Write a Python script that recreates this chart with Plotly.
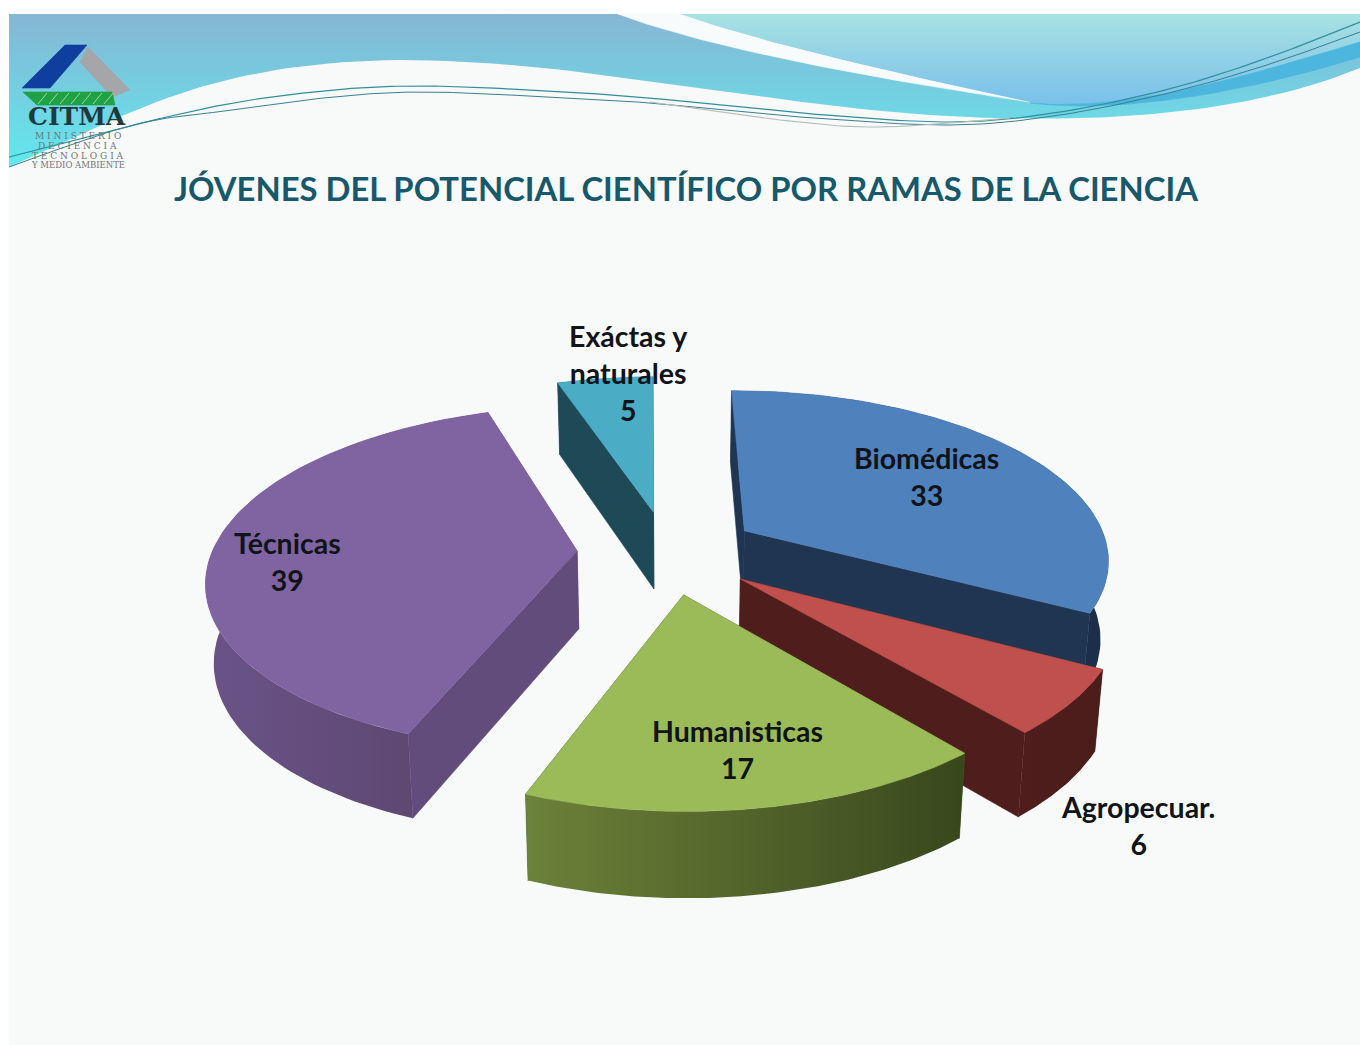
import math
import numpy as np
import plotly.graph_objects as go

# ---- data ----
categories = ["Biomédicas", "Agropecuar.", "Humanisticas", "Técnicas", "Exáctas y naturales"]
values = [33, 6, 17, 39, 5]
top_colors = ["#4f81bd", "#c0504d", "#9bbb59", "#8064a2", "#4bacc6"]
wall_colors = ["#1f3552", "#4f1e1c", "#4a5a26", "#624c7c", "#1d4a56"]
outer_left = ["#1f3552", "#4f1e1c", "#6b8239", "#6a5388", "#1d4a56"]
outer_right = ["#1b2f4a", "#4a1c1a", "#39471d", "#594469", "#1d4a56"]
draw_order = [4, 0, 3, 1, 2]
title = "JÓVENES DEL POTENCIAL CIENTÍFICO POR RAMAS DE LA CIENCIA"

# ---- projection of the exploded pie ----
CX, CY = 668, 552
R, PULL, TILT, DIST, HEIGHT = 365, 91, 0.46, 2350, 78
START = -0.5


def project(gx, gy, bottom=False):
    s = 1 / (1 + gy / DIST)
    x = CX + gx * s
    y = CY - TILT * gy * s
    if bottom:
        x = CX + (x - CX) * 0.982
        y = y + HEIGHT * np.sqrt(s)
    return x, y


fig = go.Figure()


def poly(xs, ys, color=None, grad=None, gtype="horizontal"):
    xs, ys = list(xs), list(ys)
    kw = dict(x=xs + xs[:1], y=ys + ys[:1], mode="lines", fill="toself",
              hoverinfo="skip", showlegend=False)
    if grad:
        kw["fillgradient"] = dict(type=gtype, colorscale=[[0, grad[0]], [1, grad[1]]])
        kw["line"] = dict(width=0)
    else:
        kw["fillcolor"] = color
        kw["line"] = dict(width=0.6, color=color)
    fig.add_trace(go.Scatter(**kw))


def bez(p0, p1, p2, p3, n=40):
    t = np.linspace(0, 1, n)
    x = (1-t)**3*p0[0] + 3*(1-t)**2*t*p1[0] + 3*(1-t)*t**2*p2[0] + t**3*p3[0]
    y = (1-t)**3*p0[1] + 3*(1-t)**2*t*p1[1] + 3*(1-t)*t**2*p2[1] + t**3*p3[1]
    return list(x), list(y)


def path(*segs):
    xs, ys = [], []
    for s in segs:
        x, y = bez(*s)
        xs += x
        ys += y
    return xs, ys


def spline(pts):
    x, y = [], []
    for i in range(len(pts) - 1):
        a, b = pts[i], pts[i + 1]
        p = pts[i - 1] if i else a
        q = pts[i + 2] if i + 2 < len(pts) else b
        c1 = (a[0] + (b[0] - p[0]) / 6, a[1] + (b[1] - p[1]) / 6)
        c2 = (b[0] - (q[0] - a[0]) / 6, b[1] - (q[1] - a[1]) / 6)
        xx, yy = bez(a, c1, c2, b, 20)
        x += xx
        y += yy
    return x, y


# ---- slide background ----
poly([9, 1360, 1360, 9], [14, 14, 1045, 1045], color="#f8f9f9")

# ---- header ----
lx, ly = path(((9, 167), (120, 120), (200, 62), (400, 60)),
              ((400, 60), (600, 60), (800, 115), (1000, 118)),
              ((1000, 118), (1150, 122), (1270, 105), (1360, 68)))
poly([9, 618, 1017, 1360] + lx[::-1], [14, 14, 100, 40] + ly[::-1],
     grad=("#62e8ee", "#86b6d4"), gtype="vertical")
wx, wy = path(((618, 14), (700, 45), (850, 75), (1030, 102)))
wx2, wy2 = path(((1030, 102), (880, 70), (760, 42), (680, 14)))
poly(wx + wx2, wy + wy2, color="#f8fbfb")
ux, uy = path(((680, 14), (760, 42), (880, 70), (1030, 102)),
              ((1030, 102), (1130, 112), (1250, 75), (1360, 42)))
poly(ux + [1360], uy + [14], grad=("#7ac0ea", "#a8e2e2"), gtype="vertical")
dx1, dy1 = path(((1030, 103), (1130, 112), (1250, 75), (1360, 42)))
dx2, dy2 = path(((1360, 57), (1260, 88), (1130, 115), (1030, 103)))
poly(dx1 + dx2, dy1 + dy2, color="#4cb6de")
for pts, col, w in [
    ([(9, 157), (133, 125), (233, 103), (333, 90), (420, 86), (530, 90), (650, 98), (800, 113), (950, 122), (1060, 112), (1173, 88), (1270, 57), (1360, 22)], "#2f8f9c", 1.2),
    ([(9, 167), (133, 125), (233, 110), (333, 97), (420, 92), (530, 96), (650, 103), (800, 117), (950, 125), (1060, 115), (1173, 92), (1270, 64), (1360, 32)], "#3a7f90", 1.0),
    ([(650, 102), (780, 120), (880, 127), (1010, 118)], "#b5bcbc", 1.2),
]:
    x, y = spline(pts)
    fig.add_trace(go.Scatter(x=x, y=y, mode="lines", line=dict(color=col, width=w),
                             hoverinfo="skip", showlegend=False))

# ---- logo ----
poly([65, 87, 50, 22], [45, 45, 88, 88], color="#0f3f9e")
poly([88, 80, 112, 130], [47, 62, 97, 90], color="#a5a6aa")
poly([23, 112, 115, 37], [92, 92, 105, 105], color="#1fa144")
for x0 in range(38, 108, 11):
    fig.add_trace(go.Scatter(x=[x0, x0 + 9], y=[104, 93], mode="lines",
                             line=dict(color="#9ad8a8", width=1), hoverinfo="skip", showlegend=False))

# ---- exploded pie, computed from the values ----
total = sum(values)
angles = [START]
for v in values:
    angles.append(angles[-1] + 360 * v / total)

for i in draw_order:
    a0, a1 = angles[i], angles[i + 1]
    mid = math.radians((a0 + a1) / 2)
    ox, oy = PULL * math.sin(mid), PULL * math.cos(mid)
    th = np.radians(np.linspace(a0, a1, 90))
    gx = ox + R * np.sin(th)
    gy = oy + R * np.cos(th)
    tx, ty = project(gx, gy)
    bx, by = project(gx, gy, True)
    ax, ay = project(ox, oy)
    abx, aby = project(ox, oy, True)
    wall = wall_colors[i]
    # radial walls
    poly([ax, tx[0], bx[0], abx], [ay, ty[0], by[0], aby], color=wall)
    poly([ax, tx[-1], bx[-1], abx], [ay, ty[-1], by[-1], aby], color=wall)
    # outer wall
    poly(list(tx) + list(bx[::-1]), list(ty) + list(by[::-1]),
         grad=(outer_left[i], outer_right[i]))
    # top
    poly([ax] + list(tx), [ay] + list(ty), color=top_colors[i])

# ---- texts ----
LABEL = dict(family="Lato, 'Open Sans', sans-serif", size=28.5, color="#101418", weight="bold")
label_xy = {0: (926, 476), 1: (1138, 825), 2: (737, 749), 3: (287, 561), 4: (628, 373)}
anns = []
for i, c in enumerate(categories):
    name = "Exáctas y<br>naturales" if i == 4 else c
    anns.append(dict(x=label_xy[i][0], y=label_xy[i][1], xref="x", yref="y", showarrow=False,
                     text=f"{name}<br>{values[i]}", font=LABEL, align="center",
                     xanchor="center", yanchor="middle"))
anns.append(dict(x=686, y=188, xref="x", yref="y", showarrow=False, text=title,
                 font=dict(family="Lato, sans-serif", size=32.8, color="#17596b", weight="bold"),
                 xanchor="center", yanchor="middle"))
anns.append(dict(x=77, y=116, xref="x", yref="y", showarrow=False, text="CITMA",
                 font=dict(family="DejaVu Serif", size=25, color="#1d3a3c", weight="bold"),
                 xanchor="center", yanchor="middle"))
for txt, y, sz in [("M I N I S T E R I O", 136, 9), ("D E C I E N C I A", 146, 9),
                   ("T E C N O L O G I A", 156, 9), ("Y MEDIO AMBIENTE", 165, 8.5)]:
    anns.append(dict(x=77.5, y=y, xref="x", yref="y", showarrow=False, text=txt,
                     font=dict(family="DejaVu Serif", size=sz, color="#6f7676"),
                     xanchor="center", yanchor="middle"))

fig.update_layout(
    width=1360, height=1045, margin=dict(l=0, r=0, t=0, b=0),
    paper_bgcolor="#ffffff", plot_bgcolor="#ffffff", showlegend=False, annotations=anns,
    xaxis=dict(range=[0, 1360], visible=False, fixedrange=True),
    yaxis=dict(range=[1045, 0], visible=False, fixedrange=True),
)
fig.write_html("out.html", config=dict(displayModeBar=False),
               post_script="document.body.style.margin='0';document.body.style.overflow='hidden';")
